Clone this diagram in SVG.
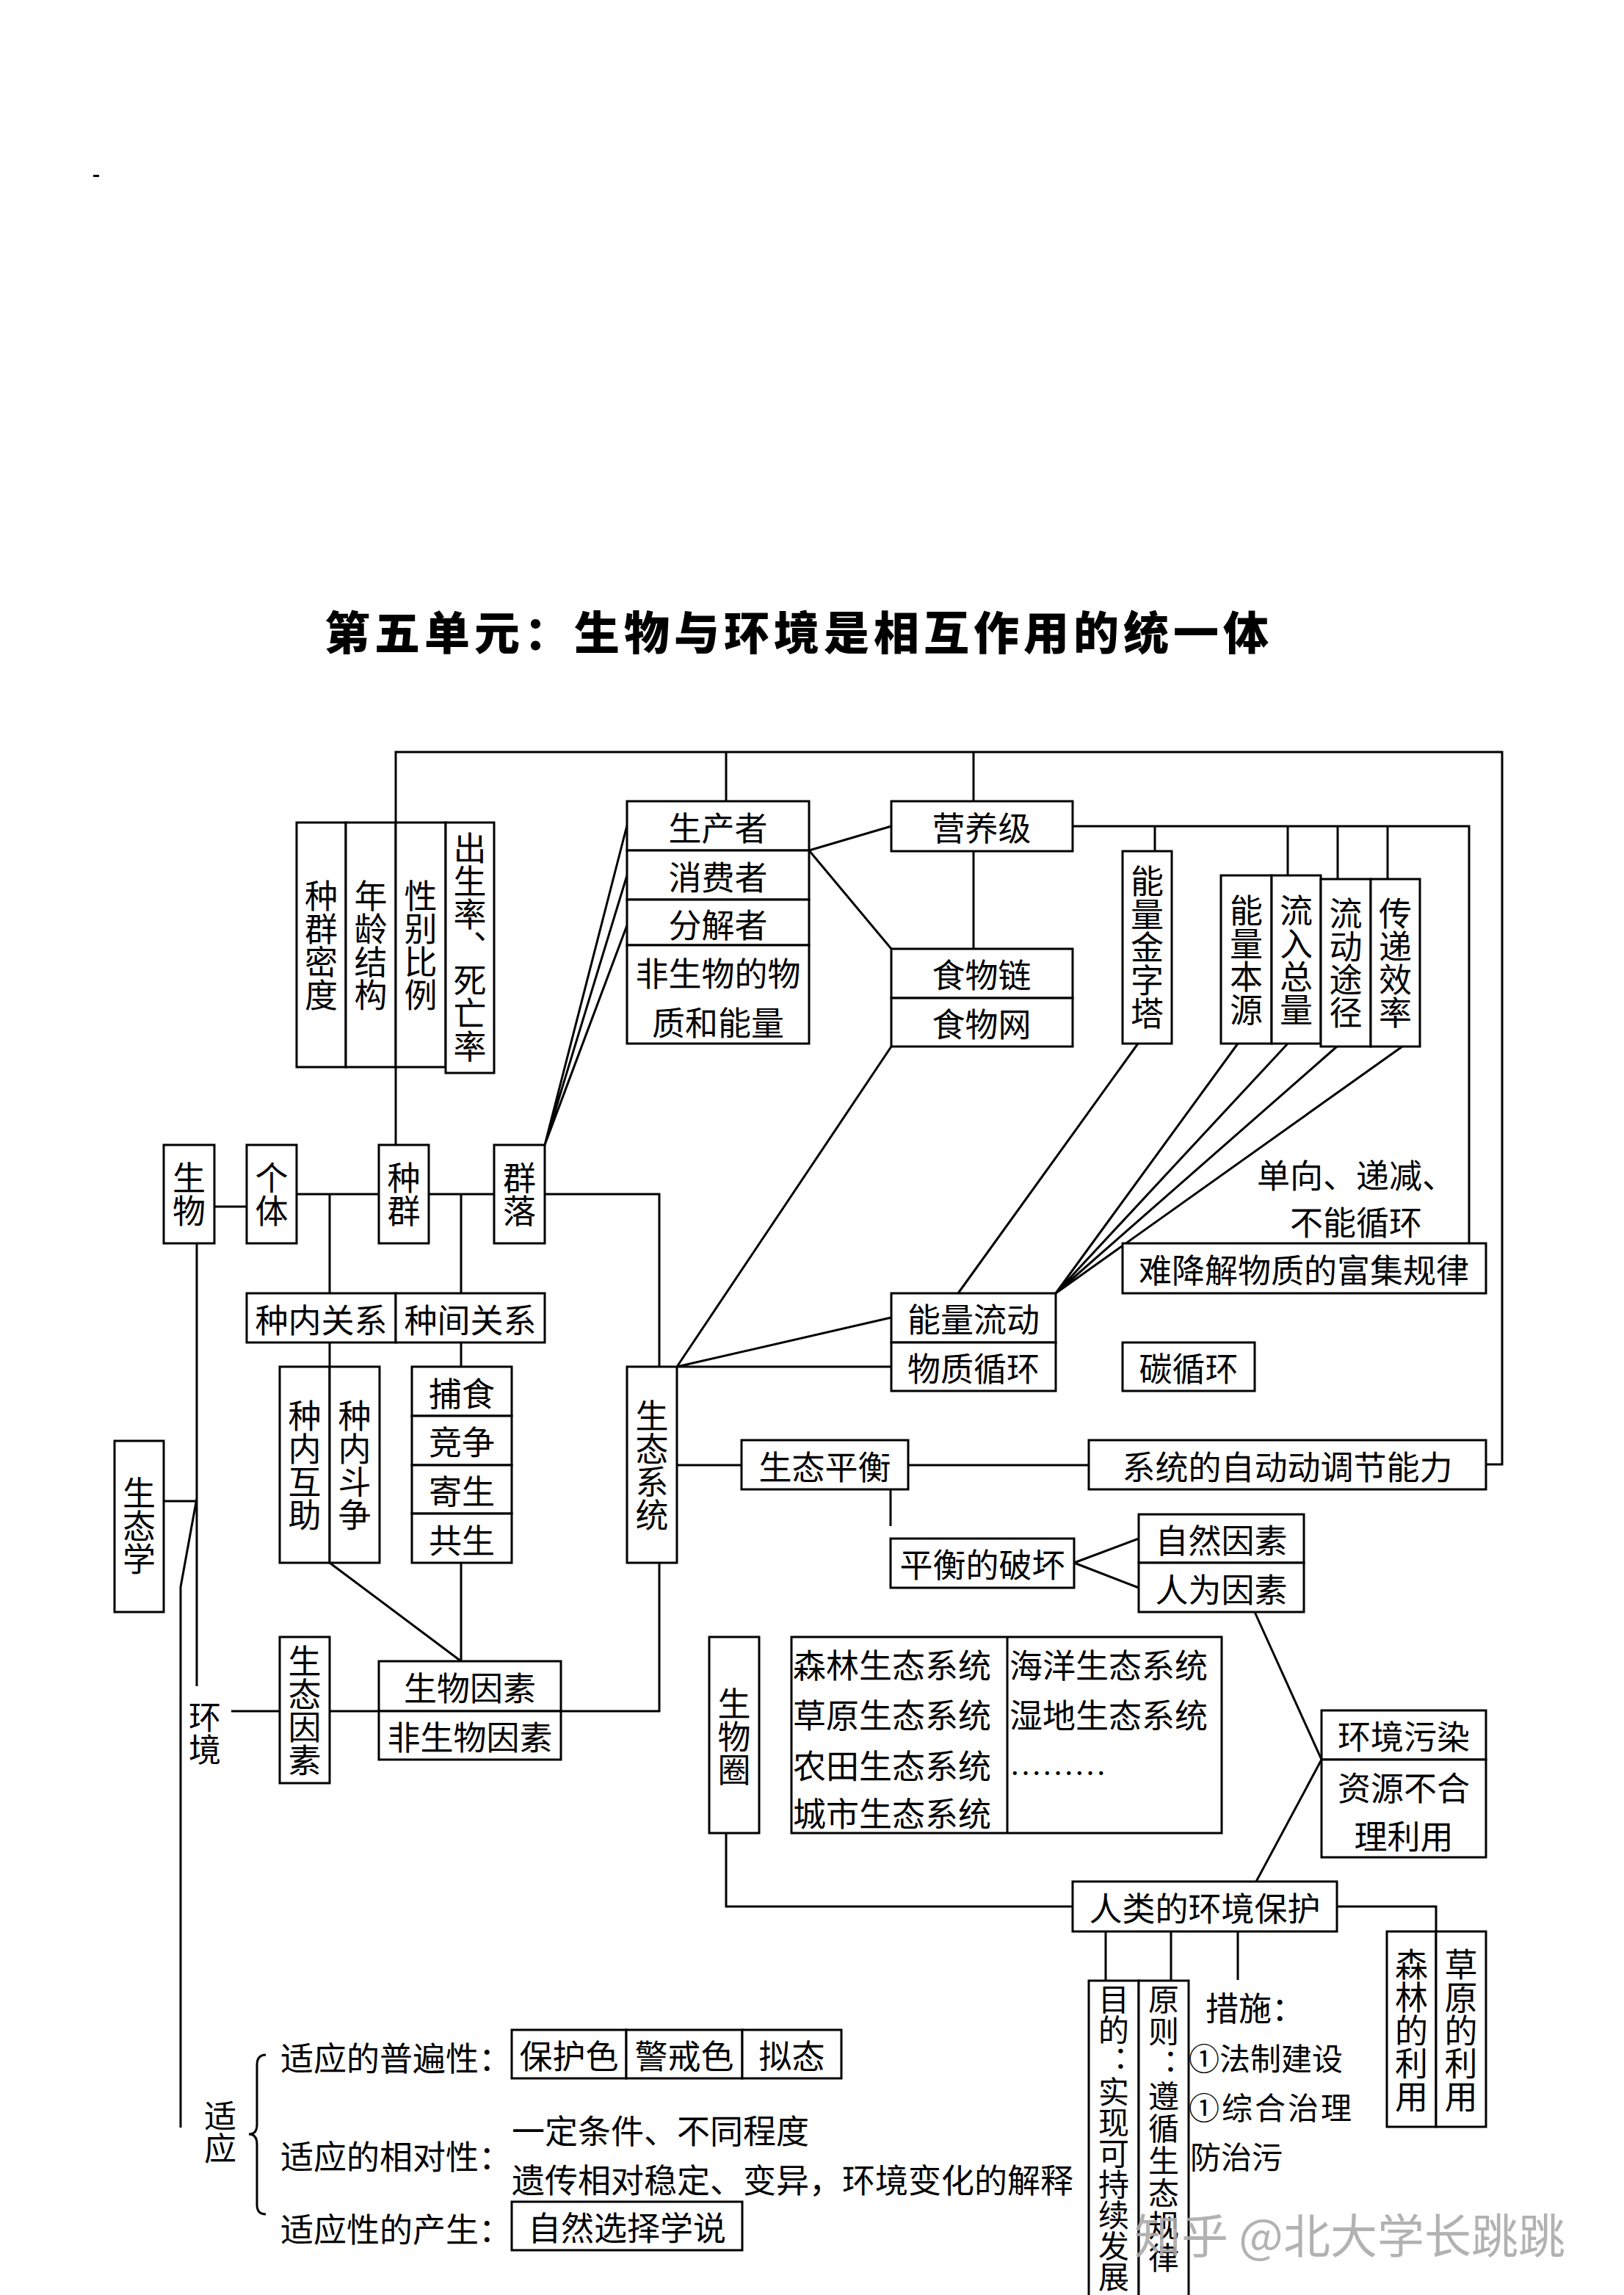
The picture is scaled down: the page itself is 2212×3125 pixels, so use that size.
<svg xmlns="http://www.w3.org/2000/svg" width="2212" height="3125" viewBox="0 0 2212 3125">
<style>
.b{fill:#fff;stroke:#000;stroke-width:3}
.l{fill:none;stroke:#000;stroke-width:3}
text{font-family:"Noto Sans CJK SC","Noto Sans CJK TC",sans-serif;font-size:45px;fill:#000}
.c{text-anchor:middle;dominant-baseline:central}
.s{text-anchor:start;dominant-baseline:central}
.v{writing-mode:vertical-rl;text-orientation:upright;text-anchor:middle;dominant-baseline:central}
.vs{writing-mode:vertical-rl;text-orientation:upright;text-anchor:start;dominant-baseline:central;font-size:42px}
</style>
<rect width="2212" height="3125" fill="#fff"/>
<rect x="127" y="238" width="8" height="3" fill="#000"/>
<text x="1088" y="858" class="c" style="font-size:62px;font-weight:900;letter-spacing:6px">第五单元：生物与环境是相互作用的统一体</text>

<g id="connectors">
<path class="l" d="M539 1559V1024H2046V1994H2024"/>
<path class="l" d="M989 1024V1091M1326 1024V1091M1326 1159V1292"/>
<path class="l" d="M1102 1158L1214 1125M1102 1158L1214 1292"/>
<path class="l" d="M742 1559L854 1124M742 1559L854 1192M742 1559L854 1260"/>
<path class="l" d="M1461 1125H2001V1693"/>
<path class="l" d="M1573 1125V1159M1754 1125V1192M1822 1125V1197M1890 1125V1197"/>
<path class="l" d="M1550 1421L1305 1761"/>
<path class="l" d="M1686 1421L1438 1761M1754 1421L1438 1761M1821 1425L1438 1761M1910 1425L1438 1761"/>
<path class="l" d="M1214 1425L922 1861M922 1861L1214 1794M922 1861H1214"/>
<path class="l" d="M292 1643H336"/>
<path class="l" d="M404 1626H516M584 1626H673M742 1626H898V1861"/>
<path class="l" d="M449 1626V1761M628 1626V1761M449 1828V1861M628 1828V1861"/>
<path class="l" d="M449 2128L628 2262M628 2128V2262"/>
<path class="l" d="M764 2330H898V2128"/>
<path class="l" d="M922 1995H1010M1237 1995H1483"/>
<path class="l" d="M1213 2028V2078"/>
<path class="l" d="M1463 2128L1551 2095M1463 2128L1551 2162"/>
<path class="l" d="M1709 2195L1800 2396L1711 2562"/>
<path class="l" d="M268 1693V2296M223 2044H268M268 2040L246 2161V2897"/>
<path class="l" d="M315 2330H381M449 2330H516"/>
<path class="l" d="M989 2496V2596H1461M1821 2596H1956V2630"/>
<path class="l" d="M1506 2630V2697M1595 2630V2697M1686 2630V2696"/>
<path class="l" d="M362 2798Q350 2798 350 2812V2893Q350 2906 339 2906Q350 2906 350 2920V3002Q350 3015 362 3015"/>
</g>

<g id="n-zqmd"><rect class="b" x="404" y="1120" width="67" height="333"/><text class="v" x="437.5" y="1287">种群密度</text></g>
<g id="n-nljg"><rect class="b" x="471" y="1120" width="68" height="333"/><text class="v" x="505" y="1287">年龄结构</text></g>
<g id="n-xbbl"><rect class="b" x="539" y="1120" width="68" height="333"/><text class="v" x="573" y="1287">性别比例</text></g>
<g id="n-cs"><rect class="b" x="607" y="1120" width="66" height="341"/><text class="v" x="640" y="1290">出生率、死亡率</text></g>

<g id="n-sw"><rect class="b" x="223" y="1559" width="69" height="134"/><text class="v" x="257.5" y="1626">生物</text></g>
<g id="n-gt"><rect class="b" x="336" y="1559" width="68" height="134"/><text class="v" x="370" y="1626">个体</text></g>
<g id="n-zq"><rect class="b" x="516" y="1559" width="68" height="134"/><text class="v" x="550" y="1626">种群</text></g>
<g id="n-ql"><rect class="b" x="673" y="1559" width="69" height="134"/><text class="v" x="707.5" y="1626">群落</text></g>

<g id="n-scz"><rect class="b" x="854" y="1091" width="248" height="67"/><text class="c" x="978" y="1125">生产者</text></g>
<g id="n-xfz"><rect class="b" x="854" y="1158" width="248" height="67"/><text class="c" x="978" y="1192">消费者</text></g>
<g id="n-fjz"><rect class="b" x="854" y="1225" width="248" height="62"/><text class="c" x="978" y="1257">分解者</text></g>
<g id="n-fsw"><rect class="b" x="854" y="1287" width="248" height="134"/><text class="c" x="978" y="1323">非生物的物</text><text class="c" x="978" y="1390">质和能量</text></g>

<g id="n-yyj"><rect class="b" x="1214" y="1091" width="247" height="68"/><text class="c" x="1337" y="1125">营养级</text></g>
<g id="n-swl"><rect class="b" x="1214" y="1292" width="247" height="67"/><text class="c" x="1337" y="1325">食物链</text></g>
<g id="n-sww"><rect class="b" x="1214" y="1359" width="247" height="66"/><text class="c" x="1337" y="1392">食物网</text></g>

<g id="n-nljzt"><rect class="b" x="1529" y="1159" width="67" height="262"/><text class="v" x="1562.5" y="1290">能量金字塔</text></g>
<g id="n-nlby"><rect class="b" x="1663" y="1192" width="69" height="229"/><text class="v" x="1697.5" y="1307">能量本源</text></g>
<g id="n-lrzl"><rect class="b" x="1732" y="1192" width="67" height="229"/><text class="v" x="1765.5" y="1307">流入总量</text></g>
<g id="n-ldtj"><rect class="b" x="1799" y="1197" width="68" height="228"/><text class="v" x="1833" y="1311">流动途径</text></g>
<g id="n-cdxl"><rect class="b" x="1867" y="1197" width="67" height="228"/><text class="v" x="1900.5" y="1311">传递效率</text></g>

<g id="n-dx"><text class="s" x="1712" y="1598">单向、递减、</text><text class="s" x="1757" y="1662">不能循环</text></g>
<g id="n-njj"><rect class="b" x="1529" y="1693" width="495" height="68"/><text class="c" x="1776" y="1727">难降解物质的富集规律</text></g>
<g id="n-nlld"><rect class="b" x="1214" y="1761" width="224" height="67"/><text class="c" x="1326" y="1794">能量流动</text></g>
<g id="n-wzxh"><rect class="b" x="1214" y="1828" width="224" height="66"/><text class="c" x="1326" y="1861">物质循环</text></g>
<g id="n-txh"><rect class="b" x="1529" y="1828" width="180" height="66"/><text class="c" x="1619" y="1861">碳循环</text></g>

<g id="n-znxg"><rect class="b" x="336" y="1761" width="203" height="67"/><text class="c" x="437.5" y="1795">种内关系</text></g>
<g id="n-zjgx"><rect class="b" x="539" y="1761" width="203" height="67"/><text class="c" x="640.5" y="1795">种间关系</text></g>
<g id="n-znhz"><rect class="b" x="381" y="1861" width="68" height="267"/><text class="v" x="415" y="1995">种内互助</text></g>
<g id="n-zndz"><rect class="b" x="449" y="1861" width="68" height="267"/><text class="v" x="483" y="1995">种内斗争</text></g>
<g id="n-bs"><rect class="b" x="561" y="1861" width="136" height="67"/><text class="c" x="629" y="1895">捕食</text></g>
<g id="n-jz"><rect class="b" x="561" y="1928" width="136" height="67"/><text class="c" x="629" y="1961">竞争</text></g>
<g id="n-js"><rect class="b" x="561" y="1995" width="136" height="66"/><text class="c" x="629" y="2028">寄生</text></g>
<g id="n-gs"><rect class="b" x="561" y="2061" width="136" height="67"/><text class="c" x="629" y="2095">共生</text></g>

<g id="n-stxt"><rect class="b" x="854" y="1861" width="68" height="267"/><text class="v" x="888" y="1995">生态系统</text></g>
<g id="n-stph"><rect class="b" x="1010" y="1961" width="227" height="67"/><text class="c" x="1123.5" y="1995">生态平衡</text></g>
<g id="n-zdtj"><rect class="b" x="1483" y="1961" width="541" height="67"/><text class="c" x="1753.5" y="1995">系统的自动动调节能力</text></g>
<g id="n-phpH"><rect class="b" x="1213" y="2095" width="250" height="67"/><text class="c" x="1338" y="2128">平衡的破坏</text></g>
<g id="n-zrys"><rect class="b" x="1551" y="2062" width="225" height="66"/><text class="c" x="1663.5" y="2095">自然因素</text></g>
<g id="n-rwys"><rect class="b" x="1551" y="2128" width="225" height="67"/><text class="c" x="1663.5" y="2162">人为因素</text></g>

<g id="n-stx"><rect class="b" x="156" y="1962" width="67" height="233"/><text class="v" x="189.5" y="2078">生态学</text></g>
<g id="n-hj"><text class="v" x="279" y="2360" style="font-size:44px">环境</text></g>
<g id="n-styss"><rect class="b" x="381" y="2229" width="68" height="199"/><text class="v" x="415" y="2329">生态因素</text></g>
<g id="n-swys"><rect class="b" x="516" y="2262" width="248" height="68"/><text class="c" x="640" y="2296">生物因素</text></g>
<g id="n-fswys"><rect class="b" x="516" y="2330" width="248" height="66"/><text class="c" x="640" y="2363">非生物因素</text></g>

<g id="n-swq"><rect class="b" x="966" y="2229" width="68" height="267"/><text class="v" x="1000" y="2365">生物圈</text></g>
<g id="n-list"><rect class="b" x="1078" y="2229" width="586" height="267"/><path class="l" d="M1372 2229V2496"/>
<text class="s" x="1080" y="2265">森林生态系统</text><text class="s" x="1080" y="2333">草原生态系统</text><text class="s" x="1080" y="2402">农田生态系统</text><text class="s" x="1080" y="2467">城市生态系统</text>
<text class="s" x="1375" y="2265">海洋生态系统</text><text class="s" x="1375" y="2333">湿地生态系统</text><text x="1375" y="2417" style="font-family:'Liberation Serif',serif;font-size:44px">………</text></g>

<g id="n-hjwr"><rect class="b" x="1800" y="2329" width="224" height="67"/><text class="c" x="1912" y="2362">环境污染</text></g>
<g id="n-zybh"><rect class="b" x="1800" y="2396" width="224" height="133"/><text class="c" x="1912" y="2432">资源不合</text><text class="c" x="1912" y="2498">理利用</text></g>
<g id="n-rlhb"><rect class="b" x="1461" y="2562" width="360" height="68"/><text class="c" x="1641" y="2596">人类的环境保护</text></g>
<g id="n-sllY"><rect class="b" x="1889" y="2630" width="67" height="266"/><text class="v" x="1922.5" y="2765">森林的利用</text></g>
<g id="n-cyly"><rect class="b" x="1956" y="2630" width="68" height="266"/><text class="v" x="1990" y="2765">草原的利用</text></g>
<g id="n-md"><rect class="b" x="1483" y="2697" width="68" height="440"/><text class="vs" x="1517" y="2701">目的：实现可持续发展</text></g>
<g id="n-yz"><rect class="b" x="1551" y="2697" width="68" height="440"/><text class="vs" x="1585" y="2701" style="letter-spacing:2px">原则：遵循生态规律</text></g>
<g id="n-cs2"><text class="s" x="1642" y="2732">措施：</text><text class="s" x="1619" y="2800" style="font-size:42px">①法制建设</text><text class="s" x="1619" y="2867" style="font-size:42px;letter-spacing:3px">①综合治理</text><text class="s" x="1621" y="2934" style="font-size:42px">防治污</text></g>

<g id="n-sy"><text class="v" x="300" y="2903" style="font-size:44px">适应</text></g>
<g id="n-pbx"><text class="s" x="382" y="2800">适应的普遍性：</text></g>
<g id="n-bhs"><rect class="b" x="697" y="2764" width="156" height="66"/><text class="c" x="775" y="2797">保护色</text></g>
<g id="n-jjs"><rect class="b" x="853" y="2764" width="158" height="66"/><text class="c" x="932" y="2797">警戒色</text></g>
<g id="n-nt"><rect class="b" x="1011" y="2764" width="135" height="66"/><text class="c" x="1078.5" y="2797">拟态</text></g>
<g id="n-xdx"><text class="s" x="382" y="2934">适应的相对性：</text><text class="s" x="697" y="2899">一定条件、不同程度</text><text class="s" x="697" y="2966">遗传相对稳定、变异，环境变化的解释</text></g>
<g id="n-cs3"><text class="s" x="382" y="3033">适应性的产生：</text></g>
<g id="n-zrxz"><rect class="b" x="697" y="2998" width="314" height="66"/><text class="c" x="854" y="3031">自然选择学说</text></g>

<text x="1545" y="3040" class="s" style="font-size:64px;fill:#aaaaaa;fill-opacity:0.9">知乎 @北大学长跳跳</text>
</svg>
